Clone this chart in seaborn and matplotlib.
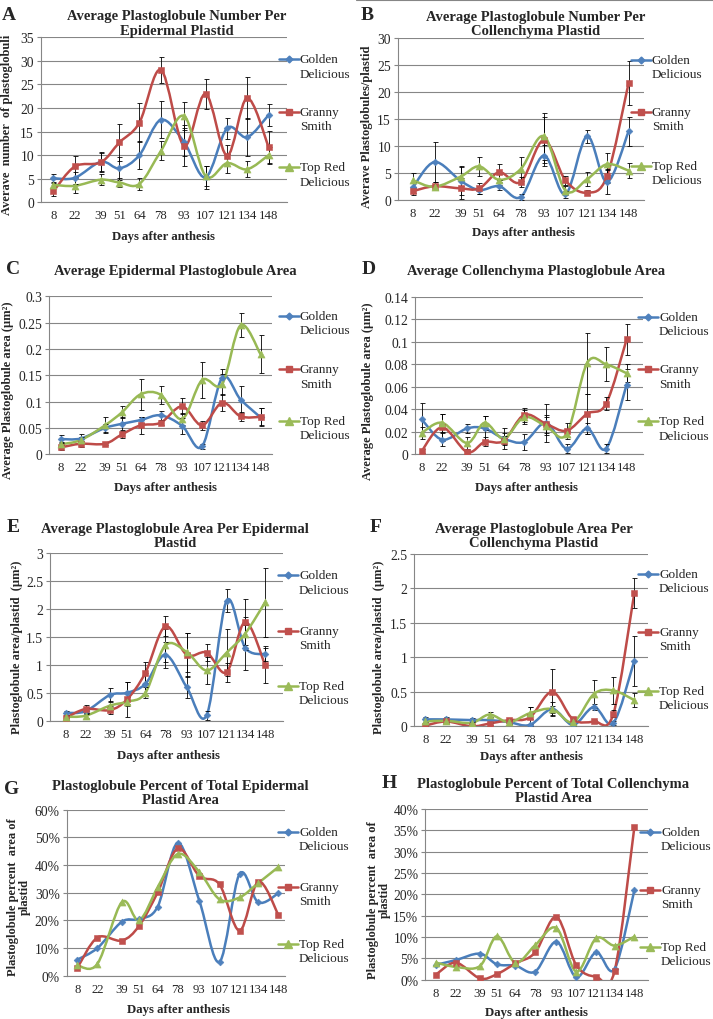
import numpy as np
import matplotlib
matplotlib.use('Agg')
import matplotlib.pyplot as plt
from matplotlib.path import Path
from matplotlib.patches import PathPatch
from matplotlib.lines import Line2D
from matplotlib.ticker import FuncFormatter, MultipleLocator
import seaborn as sns

# days after anthesis (x values, also used as tick labels)
days = [8, 22, 39, 51, 64, 78, 93, 107, 121, 134, 148]
cultivars = [('Golden', 'Delicious'), ('Granny', 'Smith'), ('Top Red', 'Delicious')]

# A - plastoglobule number per epidermal plastid
a_golden = [5.1, 5.2, 8.6, 7.2, 10.0, 17.5, 12.8, 5.3, 15.7, 13.8, 18.5]
a_granny = [2.3, 7.6, 8.5, 12.7, 16.9, 28.1, 12.0, 23.0, 9.9, 22.1, 11.8]
a_topred = [3.7, 3.5, 4.8, 4.2, 3.9, 10.9, 18.3, 5.6, 8.3, 7.0, 10.0]
a_golden_err = [0.9, 1.3, 2.0, 2.5, 3.0, 3.9, 3.0, 2.4, 2.2, 4.0, 2.3]
a_granny_err = [0.9, 2.2, 2.0, 3.9, 4.1, 2.7, 4.3, 3.2, 2.3, 4.5, 3.4]
a_topred_err = [0.6, 1.6, 1.2, 1.0, 1.2, 2.0, 3.0, 2.1, 2.0, 1.7, 1.8]

# B - plastoglobule number per collenchyma plastid
b_golden = [2.3, 7.0, 3.5, 1.8, 2.5, 0.5, 8.2, 1.0, 11.8, 3.3, 12.7]
b_granny = [1.6, 2.5, 2.1, 2.1, 5.1, 3.3, 11.1, 3.6, 1.3, 4.4, 21.7]
b_topred = [3.6, 2.4, 4.3, 6.2, 3.7, 5.7, 11.8, 1.7, 3.8, 6.6, 5.4]
b_golden_err = [1.0, 3.7, 2.7, 0.8, 0.7, 0.6, 2.0, 0.6, 1.2, 2.3, 2.7]
b_granny_err = [0.8, 0.7, 2.0, 1.0, 1.5, 1.0, 4.3, 0.8, 0.5, 1.3, 4.1]
b_topred_err = [1.4, 0.5, 1.8, 1.8, 1.0, 2.3, 4.4, 0.8, 1.3, 2.0, 1.4]

# C - epidermal plastoglobule area
c_golden = [0.029, 0.030, 0.050, 0.058, 0.065, 0.074, 0.054, 0.015, 0.145, 0.104, 0.070]
c_granny = [0.013, 0.020, 0.020, 0.038, 0.055, 0.060, 0.091, 0.055, 0.098, 0.072, 0.071]
c_topred = [0.019, 0.027, 0.055, 0.080, 0.114, 0.113, 0.067, 0.141, 0.133, 0.245, 0.190]
c_golden_err = [0.008, 0.008, 0.008, 0.012, 0.006, 0.008, 0.015, 0.005, 0.017, 0.026, 0.017]
c_granny_err = [0.004, 0.006, 0.003, 0.007, 0.016, 0.005, 0.015, 0.008, 0.016, 0.009, 0.016]
c_topred_err = [0.004, 0.006, 0.015, 0.012, 0.029, 0.017, 0.012, 0.034, 0.020, 0.023, 0.036]

# D - collenchyma plastoglobule area
d_golden = [0.031, 0.013, 0.023, 0.023, 0.014, 0.011, 0.028, 0.005, 0.023, 0.005, 0.062]
d_granny = [0.003, 0.024, 0.002, 0.011, 0.012, 0.035, 0.027, 0.021, 0.036, 0.045, 0.102]
d_topred = [0.019, 0.028, 0.010, 0.028, 0.014, 0.033, 0.025, 0.018, 0.081, 0.080, 0.072]
d_golden_err = [0.015, 0.006, 0.004, 0.011, 0.005, 0.007, 0.017, 0.004, 0.005, 0.004, 0.014]
d_granny_err = [0.002, 0.012, 0.002, 0.004, 0.004, 0.006, 0.008, 0.007, 0.018, 0.006, 0.014]
d_topred_err = [0.005, 0.008, 0.005, 0.006, 0.009, 0.006, 0.008, 0.003, 0.027, 0.015, 0.008]

# E - plastoglobule area per epidermal plastid
e_golden = [0.14, 0.17, 0.46, 0.50, 0.66, 1.18, 0.60, 0.10, 2.15, 1.31, 1.19]
e_granny = [0.05, 0.21, 0.19, 0.38, 0.86, 1.69, 1.18, 1.22, 0.87, 1.77, 1.00]
e_topred = [0.07, 0.09, 0.27, 0.34, 0.50, 1.35, 1.23, 0.90, 1.22, 1.56, 2.12]
e_golden_err = [0.04, 0.05, 0.12, 0.20, 0.20, 0.23, 0.20, 0.08, 0.21, 0.41, 0.12]
e_granny_err = [0.03, 0.08, 0.07, 0.31, 0.19, 0.18, 0.40, 0.15, 0.17, 0.41, 0.33]
e_topred_err = [0.03, 0.04, 0.08, 0.08, 0.10, 0.30, 0.35, 0.24, 0.42, 0.30, 0.62]

# F - plastoglobule area per collenchyma plastid
f_golden = [0.10, 0.10, 0.09, 0.09, 0.06, 0.02, 0.25, 0.02, 0.28, 0.05, 0.95]
f_granny = [0.01, 0.07, 0.00, 0.04, 0.09, 0.13, 0.50, 0.10, 0.07, 0.18, 1.93]
f_topred = [0.07, 0.08, 0.05, 0.17, 0.06, 0.19, 0.25, 0.06, 0.47, 0.52, 0.38]
f_golden_err = [0.04, 0.04, 0.03, 0.04, 0.03, 0.02, 0.05, 0.02, 0.05, 0.03, 0.36]
f_granny_err = [0.01, 0.03, 0.01, 0.02, 0.02, 0.15, 0.33, 0.03, 0.02, 0.05, 0.22]
f_topred_err = [0.03, 0.03, 0.03, 0.04, 0.03, 0.09, 0.10, 0.03, 0.20, 0.20, 0.10]

# G - percent of total epidermal plastid area (%)
g_golden = [5.8, 10.0, 19.5, 20.5, 25.0, 48.0, 27.0, 5.0, 36.8, 26.5, 29.8]
g_granny = [2.8, 13.8, 12.7, 18.0, 30.2, 46.0, 36.0, 33.0, 16.3, 34.0, 22.0]
g_topred = [3.7, 4.3, 26.6, 20.0, 32.0, 44.0, 37.5, 27.6, 28.3, 33.5, 39.3]

# H - percent of total collenchyma plastid area (%)
h_golden = [3.5, 4.6, 6.1, 3.6, 3.3, 1.9, 8.9, 0.6, 6.4, 2.5, 21.0]
h_granny = [1.2, 4.0, 0.3, 1.3, 3.8, 6.4, 14.7, 3.4, 0.7, 2.0, 35.8]
h_topred = [4.0, 3.0, 3.2, 10.2, 4.0, 8.1, 12.1, 1.9, 9.7, 8.0, 10.1]

line_colors = ['#4A7EBB', '#BE4B48', '#98B954']
marker_colors = ['#4F81BD', '#C0504D', '#9BBB59']
markers = ['D', 's', '^']
marker_sizes = [12, 22, 26]
GRAY = '#868686'

W, H = 713, 1020

sns.set_theme(style='white')
plt.rcParams['font.family'] = ['Liberation Serif', 'DejaVu Serif']


def px_rect(l, t, r, b):
    return [l / W, 1 - b / H, (r - l) / W, (b - t) / H]


def fx(x):
    return x / W


def fy(y):
    return 1 - y / H


def smooth_path(x, y):
    # excel style smoothed line: cubic bezier through every point
    p = np.column_stack([x, y]).astype(float)
    n = len(p)
    verts = [p[0]]
    codes = [Path.MOVETO]
    for i in range(n - 1):
        prev = p[max(i - 1, 0)]
        nxt = p[min(i + 2, n - 1)]
        c1 = p[i] + (p[i + 1] - prev) / 6
        c2 = p[i + 1] - (nxt - p[i]) / 6
        verts += [c1, c2, p[i + 1]]
        codes += [Path.CURVE4] * 3
    return Path(verts, codes)


panels = [
    dict(letter='A', title='Average Plastoglobule Number Per\nEpidermal Plastid',
         ylabel='Averave  number  of plastoglobuli',
         vals=(a_golden, a_granny, a_topred), errs=(a_golden_err, a_granny_err, a_topred_err),
         ymax=35, ystep=5, pct=False, box=(41, 38.3, 287, 203.3), xlim=(0, 160),
         letter_xy=(9, 15), title_xy=(177, 24), ylabel_xy=(7, 125), xlabel_xy=(163, 237),
         leg_x=279, leg_y=(60, 113, 168)),
    dict(letter='B', title='Average Plastoglobule Number Per\nCollenchyma Plastid',
         ylabel='Averave Plastoglobules/plastid',
         vals=(b_golden, b_granny, b_topred), errs=(b_golden_err, b_granny_err, b_topred_err),
         ymax=30, ystep=5, pct=False, box=(398, 39.3, 644, 200.7), xlim=(-1.7, 158),
         letter_xy=(367, 16), title_xy=(536, 24.5), ylabel_xy=(367, 127), xlabel_xy=(523, 233),
         leg_x=631, leg_y=(61, 113, 167)),
    dict(letter='C', title='Average Epidermal Plastoglobule Area',
         ylabel='Average Plastoglobule area (µm²)',
         vals=(c_golden, c_granny, c_topred), errs=(c_golden_err, c_granny_err, c_topred_err),
         ymax=0.3, ystep=0.05, pct=False, box=(49.3, 297.3, 272, 455.3), xlim=(0, 156),
         letter_xy=(13, 270), title_xy=(175, 271.7), ylabel_xy=(8, 390), xlabel_xy=(165, 488),
         leg_x=279, leg_y=(316.7, 370, 421.7)),
    dict(letter='D', title='Average Collenchyma Plastoglobule Area',
         ylabel='Average Plastoglobule area (µm²)',
         vals=(d_golden, d_granny, d_topred), errs=(d_golden_err, d_granny_err, d_topred_err),
         ymax=0.14, ystep=0.02, pct=False, box=(415.3, 297.7, 642.7, 455.3), xlim=(3.6, 159),
         letter_xy=(369, 270), title_xy=(536, 272), ylabel_xy=(368, 391), xlabel_xy=(526, 488),
         leg_x=638, leg_y=(318, 370, 422)),
    dict(letter='E', title='Average Plastoglobule Area Per Epidermal\nPlastid',
         ylabel='Plastoglobule area/plastid  (µm²)',
         vals=(e_golden, e_granny, e_topred), errs=(e_golden_err, e_granny_err, e_topred_err),
         ymax=3, ystep=0.5, pct=False, box=(50, 554.3, 283.3, 721.7), xlim=(-3, 160.8),
         letter_xy=(13, 528), title_xy=(175, 536.5), ylabel_xy=(17, 647), xlabel_xy=(168, 756),
         leg_x=278, leg_y=(576, 632, 687)),
    dict(letter='F', title='Average Plastoglobule Area Per\nCollenchyma Plastid',
         ylabel='Plastoglobule area/plastid  (µm²)',
         vals=(f_golden, f_granny, f_topred), errs=(f_golden_err, f_granny_err, f_topred_err),
         ymax=2.5, ystep=0.5, pct=False, box=(414.3, 555, 647.7, 727.3), xlim=(0.6, 157),
         letter_xy=(376, 528), title_xy=(534, 536.5), ylabel_xy=(379, 647), xlabel_xy=(531, 757),
         leg_x=638, leg_y=(575, 633, 692)),
    dict(letter='G', title='Plastoglobule Percent of Total Epidermal\nPlastid Area',
         ylabel='Plastoglobule percent  area of\nplastid',
         vals=(g_golden, g_granny, g_topred), errs=None,
         ymax=60, ystep=10, pct=True, box=(66.7, 810.7, 285, 976.7), xlim=(0.6, 152.6),
         letter_xy=(12, 790), title_xy=(180, 793.5), ylabel_xy=(19, 897), xlabel_xy=(178, 1010),
         leg_x=278, leg_y=(833, 888, 945)),
    dict(letter='H', title='Plastoglobule Percent of Total Collenchyma\nPlastid Area',
         ylabel='Plastoglobule percent  area of\nplastid',
         vals=(h_golden, h_granny, h_topred), errs=None,
         ymax=40, ystep=5, pct=True, box=(425.3, 810, 647.7, 980.7), xlim=(0.45, 157.4),
         letter_xy=(389, 783), title_xy=(553, 791.5), ylabel_xy=(378.5, 900), xlabel_xy=(536, 1013),
         leg_x=640, leg_y=(833, 891, 948)),
]

fig = plt.figure(figsize=(W / 100, H / 100), dpi=100)

for p in panels:
    ax = fig.add_axes(px_rect(*p['box']))
    ax.set_facecolor('white')

    for k in range(3):
        vals = p['vals'][k]
        patch = PathPatch(smooth_path(days, vals), fill=False, edgecolor=line_colors[k],
                          lw=1.8, zorder=2, capstyle='round', joinstyle='round')
        ax.add_patch(patch)
        if p['errs'] is not None:
            ax.errorbar(days, vals, yerr=p['errs'][k], fmt='none', ecolor='black',
                        elinewidth=0.6, capsize=1.8, capthick=0.6, zorder=3)
        sns.scatterplot(x=days, y=vals, ax=ax, marker=markers[k], s=marker_sizes[k],
                        color=marker_colors[k], edgecolor=marker_colors[k], linewidth=0.4,
                        zorder=4, legend=False)

    ax.set_xlim(*p['xlim'])
    ax.set_ylim(0, p['ymax'])
    ax.set_xticks(days)
    ax.set_xticklabels([str(d) for d in days])
    ax.yaxis.set_major_locator(MultipleLocator(p['ystep']))
    if p['pct']:
        ax.yaxis.set_major_formatter(FuncFormatter(lambda v, pos: f'{round(v, 4):g}%'))
    else:
        ax.yaxis.set_major_formatter(FuncFormatter(lambda v, pos: f'{round(v, 4):g}'))

    ax.grid(axis='y', color=GRAY, lw=0.8)
    ax.grid(axis='x', visible=False)
    ax.set_axisbelow(True)
    for side in ['top', 'right']:
        ax.spines[side].set_visible(False)
    for side in ['left', 'bottom']:
        ax.spines[side].set_color(GRAY)
        ax.spines[side].set_linewidth(0.8)
    ax.tick_params(axis='y', length=3, width=0.8, color=GRAY, direction='out',
                   labelsize=9.8, pad=2, left=True)
    ax.tick_params(axis='x', length=0, labelsize=9.2, pad=5)
    ax.set_xlabel('')
    ax.set_ylabel('')

    # panel texts
    fig.text(fx(p['letter_xy'][0]), fy(p['letter_xy'][1]), p['letter'], fontsize=14,
             fontweight='bold', ha='center', va='center')
    fig.text(fx(p['title_xy'][0]), fy(p['title_xy'][1]), p['title'], fontsize=10.5,
             fontweight='bold', ha='center', va='center', linespacing=1.15)
    fig.text(fx(p['ylabel_xy'][0]), fy(p['ylabel_xy'][1]), p['ylabel'], fontsize=9,
             fontweight='bold', ha='center', va='center', rotation=90, linespacing=1.0)
    fig.text(fx(p['xlabel_xy'][0]), fy(p['xlabel_xy'][1]), 'Days after anthesis',
             fontsize=9.2, fontweight='bold', ha='center', va='center')

    # legend drawn beside the plot area, symbol level with the first text line
    for k in range(3):
        ly = p['leg_y'][k]
        x0, x1 = p['leg_x'], p['leg_x'] + 20
        fig.add_artist(Line2D([fx(x0), fx(x1)], [fy(ly), fy(ly)], color=line_colors[k],
                              lw=1.8, transform=fig.transFigure))
        fig.add_artist(Line2D([fx((x0 + x1) / 2)], [fy(ly)], marker=markers[k],
                              markersize=np.sqrt(marker_sizes[k]), color=marker_colors[k],
                              lw=0, transform=fig.transFigure))
        fig.text(fx(x1 + 1), fy(ly), cultivars[k][0], fontsize=9.5, ha='left', va='center')
        fig.text(fx(x1 + 1), fy(ly + 14.5), cultivars[k][1], fontsize=9.5, ha='left', va='center')

# thin rule along the top of panel B
fig.add_artist(Line2D([fx(356), fx(713)], [fy(1), fy(1)], color=GRAY, lw=0.8,
                      transform=fig.transFigure))

fig.savefig('out.png', dpi=100, facecolor='white')
